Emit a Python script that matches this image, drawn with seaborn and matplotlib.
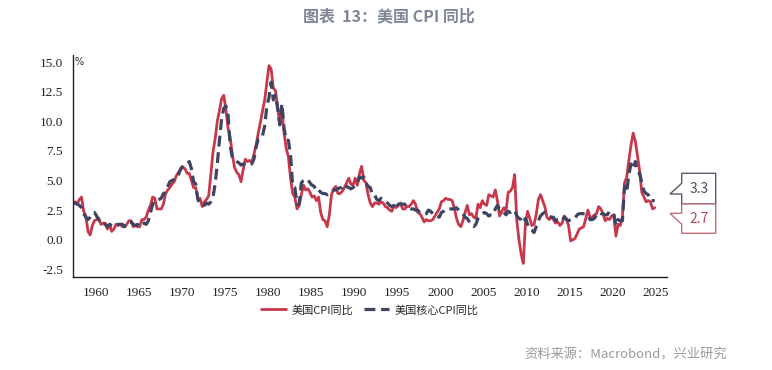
import numpy as np
import pandas as pd
import matplotlib
matplotlib.use("Agg")
import matplotlib.pyplot as plt
import seaborn as sns
from matplotlib.patches import Polygon

# quarterly values, 1957Q2 .. 2024Q4
cpi = [3.0, 3.2, 3.0,
       3.4, 3.6, 2.4, 2.0,
       0.7, 0.4, 1.2, 1.6,
       1.7, 1.8, 1.3, 1.4,
       1.4, 0.9, 1.3, 0.7,
       0.9, 1.3, 1.2, 1.3,
       1.1, 1.1, 1.3, 1.6,
       1.6, 1.1, 1.2, 1.1,
       1.1, 1.7, 1.7, 1.9,
       2.5, 2.9, 3.6, 3.5,
       2.6, 2.6, 2.6, 3.0,
       3.9, 4.2, 4.4, 4.7,
       4.9, 5.4, 5.7, 5.9,
       6.1, 6.0, 5.6, 5.6,
       5.0, 4.4, 4.4, 3.4,
       3.5, 2.8, 3.2, 3.4,
       3.7, 5.5, 7.4, 8.5,
       10.0, 10.9, 11.9, 12.2,
       11.0, 9.4, 8.6, 7.2,
       6.1, 5.7, 5.5, 4.9,
       5.9, 6.8, 6.6, 6.7,
       6.5, 7.2, 8.0, 9.0,
       9.9, 10.9, 11.8, 13.3,
       14.7, 14.4, 12.8, 12.6,
       11.2, 9.7, 10.9, 9.0,
       7.7, 7.0, 5.2, 3.9,
       3.6, 2.6, 2.9, 3.8,
       4.6, 4.2, 4.3, 4.0,
       3.6, 3.7, 3.3, 3.6,
       2.3, 1.7, 1.6, 1.1,
       2.1, 3.8, 4.3, 4.5,
       3.9, 3.9, 4.1, 4.4,
       4.8, 5.2, 4.7, 4.6,
       5.2, 4.6, 5.6, 6.2,
       5.0, 4.8, 3.8, 3.1,
       2.8, 3.1, 3.1, 3.0,
       3.2, 3.1, 2.8, 2.7,
       2.5, 2.4, 2.9, 2.7,
       2.9, 3.1, 2.6, 2.6,
       2.8, 2.8, 3.0, 3.3,
       3.0, 2.3, 2.2, 1.9,
       1.5, 1.7, 1.6, 1.6,
       1.7, 2.0, 2.3, 2.6,
       3.2, 3.3, 3.5, 3.4,
       3.4, 3.3, 2.7, 1.8,
       1.3, 1.1, 1.6, 2.3,
       2.9, 2.1, 2.2, 1.9,
       1.8, 3.0, 2.7, 3.3,
       3.0, 2.9, 3.8, 3.7,
       3.6, 4.2, 3.3, 2.0,
       2.4, 2.7, 2.4, 4.0,
       4.1, 4.4, 5.5, 1.6,
       0.0, -1.2, -2.0, 1.4,
       2.4, 1.8, 1.2, 1.3,
       2.1, 3.4, 3.8, 3.3,
       2.8, 1.9, 1.7, 1.9,
       1.7, 1.4, 1.5, 1.2,
       1.4, 2.0, 1.8, 1.2,
       -0.1, 0.0, 0.1, 0.5,
       0.9, 1.0, 1.1, 1.8,
       2.5, 1.9, 1.9, 2.1,
       2.2, 2.8, 2.6, 2.2,
       1.6, 1.8, 1.7, 2.0,
       2.1, 0.3, 1.3, 1.2,
       1.9, 4.8, 5.3, 6.7,
       8.0, 9.0, 8.3, 7.1,
       5.8, 4.0, 3.6, 3.2,
       3.3, 3.2, 2.6, 2.7]

core = [3.1, 3.1, 3.0,
        2.9, 2.7, 2.2, 1.9,
        1.7, 1.9, 2.2, 2.3,
        2.0, 1.7, 1.3, 1.3,
        1.3, 1.1, 1.3, 1.2,
        1.1, 1.2, 1.3, 1.3,
        1.3, 1.1, 1.4, 1.5,
        1.5, 1.3, 1.2, 1.3,
        1.1, 1.3, 1.4, 1.3,
        1.6, 2.3, 3.0, 3.3,
        3.3, 3.4, 3.5, 3.9,
        4.0, 4.5, 4.9, 5.0,
        5.1, 5.2, 5.5, 6.0,
        6.2, 6.4, 6.4, 6.6,
        6.0, 4.9, 4.7, 3.4,
        3.0, 3.0, 2.9, 3.1,
        3.0, 3.2, 3.6, 4.7,
        6.4, 8.4, 10.2, 11.1,
        11.3, 10.5, 7.9, 6.9,
        6.7, 6.6, 6.5, 6.3,
        6.4, 6.3, 6.3, 6.4,
        6.4, 6.8, 7.8, 8.5,
        8.5, 8.8, 9.6, 11.3,
        12.0, 13.3, 11.8, 12.2,
        11.1, 9.7, 11.5, 9.4,
        8.4, 8.4, 7.1, 4.5,
        4.4, 3.0, 3.0, 4.8,
        5.0, 5.1, 5.1, 4.8,
        4.6, 4.5, 4.1, 4.2,
        4.0, 3.9, 3.9, 3.8,
        3.9, 4.0, 4.2, 4.2,
        4.3, 4.4, 4.4, 4.7,
        4.5, 4.4, 4.3, 4.4,
        4.6, 4.8, 5.3, 5.2,
        5.3, 4.8, 4.5, 4.4,
        3.8, 3.8, 3.4, 3.3,
        3.5, 3.3, 3.2, 3.1,
        2.9, 2.8, 2.9, 2.6,
        3.0, 3.0, 3.0, 3.0,
        2.7, 2.7, 2.6, 2.6,
        2.5, 2.5, 2.3, 2.2,
        2.2, 2.2, 2.5, 2.4,
        2.2, 2.0, 2.0, 1.9,
        2.3, 2.4, 2.6, 2.6,
        2.6, 2.6, 2.6, 2.7,
        2.5, 2.3, 2.2, 1.9,
        1.8, 1.5, 1.2, 1.1,
        1.3, 1.8, 2.0, 2.2,
        2.3, 2.2, 2.0, 2.1,
        2.1, 2.6, 2.9, 2.6,
        2.6, 2.3, 2.1, 2.4,
        2.3, 2.4, 2.5, 2.0,
        1.8, 1.7, 1.4, 1.8,
        1.3, 0.9, 0.8, 0.6,
        1.1, 1.6, 2.0, 2.2,
        2.3, 2.2, 2.0, 1.9,
        1.9, 1.6, 1.7, 1.7,
        1.6, 1.9, 1.7, 1.6,
        1.7, 1.8, 1.8, 2.1,
        2.2, 2.2, 2.2, 2.2,
        2.0, 1.7, 1.7, 1.8,
        2.1, 2.3, 2.2, 2.2,
        2.1, 2.1, 2.4, 2.3,
        2.2, 1.2, 1.7, 1.6,
        1.6, 4.5, 4.0, 5.5,
        6.4, 6.0, 6.6, 5.7,
        5.6, 4.8, 4.1, 3.9,
        3.8, 3.3, 3.3, 3.3]

quarters = pd.period_range("1957Q2", "2024Q4", freq="Q")
labels = ["美国CPI同比", "美国核心CPI同比"]
last_vals = ["3.3", "2.7"]
xticks = list(range(1960, 2026, 5))
yticks = [-2.5, 0.0, 2.5, 5.0, 7.5, 10.0, 12.5, 15.0]

t = quarters.year + (quarters.quarter - 0.5) / 4
df = pd.DataFrame({"t": t, "cpi": cpi, "core": core})

red = "#c8374a"
navy = "#3e4563"
cjk = ["Noto Sans CJK SC", "DejaVu Sans"]

sns.set_style("white")
# serif for the tick numbers, CJK font set on each text below
plt.rcParams["font.family"] = "serif"
plt.rcParams["font.serif"] = ["Liberation Serif", "Times New Roman", "DejaVu Serif"]

fig = plt.figure(figsize=(7.72, 3.70), dpi=100)
ax = fig.add_axes([72.7 / 772, 1 - 277 / 370, (667 - 72.7) / 772, (277 - 55) / 370])

sns.lineplot(data=df, x="t", y="cpi", ax=ax, color=red, lw=2.0, label=labels[0])
sns.lineplot(data=df, x="t", y="core", ax=ax, color=navy, lw=2.3,
             linestyle=(0, (3.4, 1.8)), label=labels[1])

ax.set_xlim(1957.35, 2026.3)
ax.set_ylim(-3.15, 15.6)
ax.set_xticks(xticks, labels=[str(x) for x in xticks])
ax.set_yticks(yticks, labels=[f"{v:.1f}" for v in yticks])
ax.set_xlabel("")
ax.set_ylabel("")
for s in ["top", "right"]:
    ax.spines[s].set_visible(False)
for s in ["left", "bottom"]:
    ax.spines[s].set_color("#222222")
    ax.spines[s].set_linewidth(1.0)
ax.tick_params(axis="both", direction="out", length=5, width=1, color="#555555",
               labelsize=9.5, labelcolor="#222222", pad=2)

ax.text(1957.6, 15.0, "%", fontsize=7, va="center", ha="left", family="DejaVu Sans")

leg = ax.legend(loc="upper center", bbox_to_anchor=(0.5, -0.08), ncol=2, frameon=False,
                prop={"family": cjk, "size": 8}, handlelength=2.2, columnspacing=1.0,
                handletextpad=0.5)

# callout flags at the right
def px(x, y):
    return (x / 772, 1 - y / 370)

flag1 = [(681.7, 173.3), (715.7, 173.3), (715.7, 204), (681.7, 204), (681.7, 194),
         (670, 194), (681.7, 183.3)]
flag2 = [(681.7, 204), (715.7, 204), (715.7, 233.3), (681.7, 233.3), (681.7, 224.3),
         (670, 213.3), (681.7, 213.3)]
fig.patches.append(Polygon([px(*p) for p in flag1], closed=True, fill=True, fc="white",
                           ec="#555b6b", lw=1.0, transform=fig.transFigure))
fig.patches.append(Polygon([px(*p) for p in flag2], closed=True, fill=True, fc="white",
                           ec="#c0707a", lw=1.0, transform=fig.transFigure))
fig.text(*px(699, 189), last_vals[0], ha="center", va="center", fontsize=10,
         color="#4a4f60", family=cjk)
fig.text(*px(699, 219), last_vals[1], ha="center", va="center", fontsize=10,
         color="#b04858", family=cjk)

fig.text(*px(389, 16), "图表  13：美国 CPI 同比", ha="center", va="center", fontsize=11.5,
         fontweight="bold", color="#7d8799", family=cjk)
fig.text(*px(727, 355), "资料来源：Macrobond，兴业研究", ha="right", va="center",
         fontsize=9.5, color="#9a9a9a", family=cjk)

fig.savefig("out.png", dpi=100)
